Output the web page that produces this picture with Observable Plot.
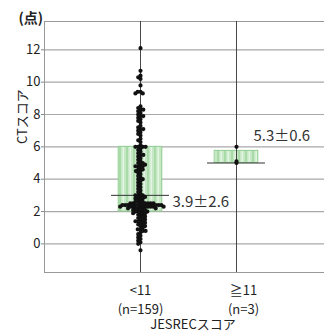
<!DOCTYPE html>
<html><head><meta charset="utf-8">
<script src="https://cdn.jsdelivr.net/npm/d3@7"></script>
<script src="https://cdn.jsdelivr.net/npm/@observablehq/plot@0.6"></script>
<style>
html,body{margin:0;padding:0;background:#fff;overflow:hidden}
#chart{width:324px;height:336px;overflow:hidden}
#chart svg{max-width:none !important}
</style></head><body><div id="chart"></div>
<script>
const categories = ["<11", "≧11"];
const groupSizes = ["(n=159)", "(n=3)"];
const scoresLow = [
  12.1, 10.7, 10.4, 10.3, 10.2, 9.8,
  9.4, 9.4, 9.3, 9.3,
  8.5, 8.4, 8.3, 8.3, 8.2, 8.1, 8.0, 7.9, 7.9, 7.8, 7.7, 7.6, 7.5,
  7.3, 7.2, 7.1, 7.1, 7.0, 6.9, 6.8, 6.7, 6.5, 6.4, 6.3,
  6.1, 6.0, 6.0, 6.0, 6.0, 5.9, 5.8, 5.7, 5.6, 5.5, 5.5, 5.4, 5.3, 5.2, 5.1, 5.0, 5.0, 4.9, 4.9, 4.8, 4.8, 4.8, 4.7, 4.6, 4.6, 4.5, 4.5,
  4.4, 4.3, 4.2, 4.1, 4.0, 4.0, 3.9, 3.8, 3.7, 3.6, 3.5, 3.4, 3.3, 3.2, 3.1, 3.0, 3.0, 3.0, 2.9, 2.9, 2.8, 2.8, 2.8, 2.7,
  2.6, 2.6, 2.6, 2.5, 2.5, 2.5, 2.5, 2.5, 2.5, 2.5, 2.4, 2.4, 2.4, 2.4, 2.4, 2.4, 2.4, 2.4, 2.4, 2.3, 2.3, 2.3, 2.3, 2.3, 2.3, 2.3, 2.3, 2.3, 2.2, 2.2, 2.2, 2.2, 2.2, 2.1, 2.1, 2.1, 2.0, 2.0, 2.0, 2.0, 1.9, 1.9, 1.9, 1.8, 1.8,
  1.7, 1.7, 1.6, 1.6, 1.5, 1.5, 1.4, 1.4, 1.4, 1.3, 1.3, 1.2, 1.2, 1.1, 1.1, 1.0,
  0.9, 0.9, 0.8, 0.8, 0.7, 0.6, 0.5, 0.4, 0.3, 0.2, 0.1, 0.0,
  -0.4
];
const scoresHigh = [6.0, 5.1, 5.0];
const q1 = [2.0, 5.0];
const q3 = [6.0, 5.75];
const medians = [3.0, 5.0];
const meanSdLabels = ["3.9±2.6", "5.3±0.6"];
const yTicks = [0, 2, 4, 6, 8, 10, 12];
const yTitle = "CTスコア";
const yUnit = "(点)";
const xTitle = "JESRECスコア";

const pos = categories.map((c, i) => i + 1);
const boxes = categories.map((c, i) => ({x: pos[i], q1: q1[i], q3: q3[i], med: medians[i], label: meanSdLabels[i]}));
const BW = 0.227, ML = 0.302;
const font = "'Noto Sans CJK JP', 'Noto Sans', sans-serif";

const chart = Plot.plot({
  width: 332, height: 336,
  marginLeft: 44, marginRight: 0, marginTop: 21, marginBottom: 64,
  style: {fontFamily: font, fontSize: "13px", color: "#222", background: "#fff"},
  x: {domain: [0, 3]},
  y: {domain: [-1.77, 13.75]},
  marks: [
    Plot.ruleY(yTicks, {stroke: "#a8a8a8", strokeWidth: 1.2}),
    Plot.frame({stroke: "#999"}),
    Plot.rectY(boxes, {x1: d => d.x - BW, x2: d => d.x + BW, y1: "q1", y2: "q3", fill: "url(#stripes)", stroke: "#93cf93", strokeWidth: 1}),
    Plot.ruleX(pos, {stroke: "#333", strokeWidth: 0.9}),
    Plot.ruleY(boxes, {y: "med", x1: d => d.x - ML, x2: d => d.x + ML, stroke: "#333", strokeWidth: 1}),
    Plot.dot(scoresLow, Plot.dodgeX("middle", {y: d => d, r: 0.9, padding: 0, fill: "#111", stroke: "#111", strokeWidth: 2.4, dx: -48})),
    Plot.dot(scoresHigh, {x: () => pos[1], y: d => d, r: 0.9, fill: "#111", stroke: "#111", strokeWidth: 2.4}),
    Plot.text([boxes[0]], {x: "x", y: "med", text: "label", dx: 32, dy: 7, textAnchor: "start", fontSize: 15, fill: "#333"}),
    Plot.text([boxes[1]], {x: "x", y: "q3", text: "label", dx: 17, dy: -15, textAnchor: "start", fontSize: 15, fill: "#333"}),
    Plot.axisY(yTicks, {tickSize: 3, tickPadding: 1, fontSize: 13, fill: "#222", stroke: "#888", label: null}),
    Plot.axisX([pos[0]], {tickFormat: i => categories[i - 1] + "\n" + groupSizes[i - 1], tickSize: 0, tickPadding: 9, fontSize: 13, lineHeight: 1.45, fill: "#222", label: null}),
    Plot.axisX([pos[1]], {tickFormat: i => categories[i - 1] + "\n" + groupSizes[i - 1], tickSize: 0, tickPadding: 9, fontSize: 13, lineHeight: 1.45, fill: "#222", dx: 7, label: null}),
    Plot.text([yTitle], {text: d => d, frameAnchor: "left", rotate: -90, dx: -22, dy: -3, fontSize: 13, fill: "#222"}),
    Plot.text([yUnit], {text: d => d, frameAnchor: "top-left", textAnchor: "end", lineAnchor: "bottom", dx: -1.5, dy: 1, fontSize: 14, fontWeight: "bold", fill: "#222"}),
    Plot.text([xTitle], {text: d => d, frameAnchor: "bottom", dx: 4.5, dy: 56, fontSize: 13, fill: "#222"})
  ]
});

const defs = d3.select(chart).insert("defs", ":first-child");
const pat = defs.append("pattern").attr("id", "stripes").attr("patternUnits", "userSpaceOnUse").attr("width", 7).attr("height", 10);
pat.append("rect").attr("width", 7).attr("height", 10).attr("fill", "#c6e8c6");
pat.append("rect").attr("x", 0).attr("width", 2).attr("height", 10).attr("fill", "#a9dba9");
pat.append("rect").attr("x", 3.5).attr("width", 1.5).attr("height", 10).attr("fill", "#e3f4e3");
document.getElementById("chart").append(chart);
</script></body></html>
